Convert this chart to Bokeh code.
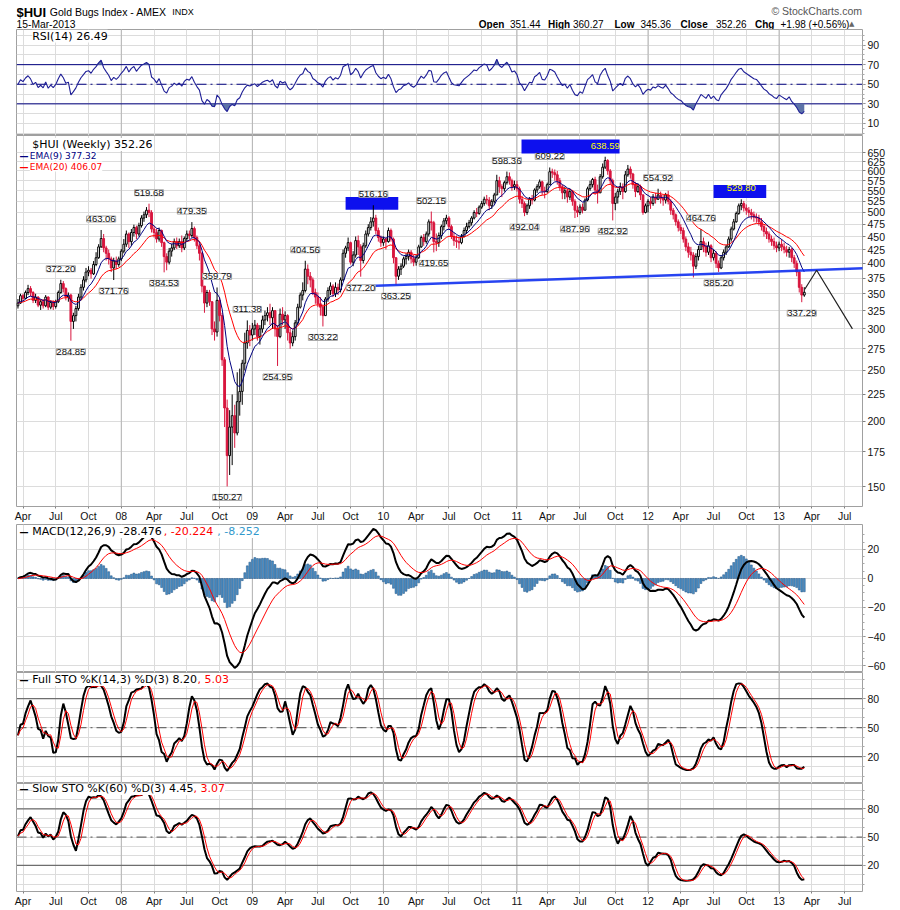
import numpy as np
import pandas as pd
from bokeh.plotting import figure
from bokeh.layouts import column
from bokeh.models import Range1d, FixedTicker, Span, Label, LabelSet, ColumnDataSource
from bokeh.core.properties import value
from bokeh.embed import file_html
from bokeh.resources import INLINE

# ---------------- data (weekly bars) ----------------
start_date = "2007-03-23"
first_open = 332.0

closes = [
    336, 347, 343, 352, 358, 352, 340, 345, 333, 338,
    332, 345, 330, 337, 331, 338, 352, 366, 358, 345,
    348, 310, 318, 328, 345, 360, 372, 385, 388, 382,
    398, 410, 430, 446, 428, 418, 408, 392, 404, 398,
    408, 422, 435, 455, 440, 458, 468, 455, 472, 488,
    495, 505, 500, 465, 458, 445, 462, 438, 412, 402,
    422, 428, 440, 432, 440, 428, 446, 455, 452, 466,
    448, 432, 418, 362, 336, 352, 338, 300, 296, 340,
    318, 262, 212, 172, 195, 205, 190, 218, 228, 258,
    282, 298, 292, 300, 305, 290, 300, 312, 318, 322,
    315, 325, 300, 290, 320, 312, 318, 295, 282, 290,
    308, 330, 348, 355, 390, 378, 372, 352, 345, 335,
    330, 318, 342, 355, 362, 350, 360, 356, 372, 418,
    428, 438, 402, 415, 442, 430, 405, 432, 455, 468,
    480, 488, 462, 448, 438, 445, 440, 462, 445, 410,
    378, 390, 395, 408, 412, 420, 408, 402, 410, 430,
    448, 440, 455, 480, 478, 440, 438, 452, 470, 482,
    488, 470, 450, 442, 440, 438, 450, 462, 470, 478,
    488, 500, 498, 512, 520, 530, 528, 515, 525, 540,
    575, 560, 555, 570, 585, 575, 560, 565, 555, 530,
    520, 500, 515, 530, 528, 552, 560, 572, 550, 548,
    565, 598, 595, 590, 575, 560, 545, 550, 535, 548,
    525, 505, 500, 512, 505, 528, 555, 565, 578, 552,
    545, 585, 610, 628, 600, 575, 520, 535, 548, 560,
    548, 590, 605, 592, 565, 548, 560, 540, 500, 515,
    525, 520, 535, 530, 540, 532, 528, 540, 525, 505,
    495, 480, 468, 462, 445, 430, 420, 415, 395, 412,
    425, 440, 430, 420, 432, 410, 418, 400, 392, 410,
    420, 430, 445, 465, 480, 498, 515, 520, 510, 505,
    500, 495, 490, 488, 480, 470, 460, 455, 445, 440,
    432, 428, 435, 430, 425, 420, 425, 410, 400, 385,
    360, 348, 352.26]

highs = [
    342, 350, 350, 355, 364, 362, 354, 350, 346, 341,
    342, 348, 346, 340, 340, 341, 355, 372.20, 370, 360,
    352, 350, 322, 332, 350, 365, 378, 392, 395, 392,
    404, 420, 435, 463.06, 455, 432, 425, 412, 410, 412,
    412, 426, 445, 462, 458, 465, 474, 472, 478, 494,
    502, 512, 519.68, 505, 472, 466, 468, 464, 440, 418,
    428, 436, 446, 448, 446, 452, 450, 462, 462, 479.35,
    470, 452, 436, 420, 362, 356, 356, 338, 310, 359.79,
    345, 322, 265, 220, 210, 225, 215, 248, 252, 262,
    295, 311.38, 305, 308, 312, 308, 305, 318, 325, 330,
    335, 330, 326, 305, 328, 330, 324, 320, 300, 298,
    312, 335, 352, 368, 404.56, 398, 385, 376, 358, 352,
    345, 334, 345, 360, 368, 365, 368, 366, 376, 425,
    432, 448, 440, 422, 450, 452, 435, 438, 462, 475,
    490, 516.16, 495, 468, 452, 450, 448, 468, 466, 448,
    410, 395, 400, 412, 418, 425, 424, 415, 415, 434,
    452, 455, 460, 485, 502.15, 482, 456, 458, 474, 488,
    495, 492, 474, 458, 452, 448, 455, 468, 478, 484,
    492, 505, 510, 516, 526, 536, 540, 535, 530, 545,
    590, 585, 566, 575, 598.36, 596, 580, 575, 575, 560,
    538, 525, 520, 535, 540, 556, 566, 578, 575, 560,
    570, 609.22, 606, 604, 600, 582, 565, 560, 555, 555,
    552, 530, 515, 518, 520, 532, 560, 575, 582, 585,
    565, 592, 620, 638.59, 632, 605, 580, 545, 555, 570,
    568, 600, 616, 612, 595, 572, 568, 565, 542, 520,
    530, 535, 542, 545, 554.92, 548, 540, 545, 550, 530,
    510, 498, 485, 475, 468, 450, 438, 430, 420, 418,
    432, 464.76, 448, 438, 440, 435, 425, 422, 405, 415,
    425, 434, 450, 470, 486, 502, 520, 529.80, 526, 518,
    512, 508, 502, 498, 495, 488, 475, 468, 460, 452,
    448, 440, 440, 445, 438, 432, 430, 428, 415, 405,
    388, 365, 360.27]

lows = [
    328, 335, 338, 342, 348, 346, 336, 336, 330, 326,
    328, 330, 326, 327, 326, 328, 336, 350, 352, 340,
    338, 284.85, 300, 310, 325, 340, 355, 368, 378, 374,
    380, 395, 408, 428, 420, 405, 398, 385, 371.76, 390,
    394, 404, 418, 430, 428, 432, 450, 445, 450, 468,
    480, 488, 490, 458, 448, 438, 440, 430, 384.53, 388,
    398, 412, 424, 426, 428, 420, 424, 440, 444, 448,
    440, 426, 405, 352, 322, 330, 332, 292, 285, 290,
    310, 255, 195, 150.27, 158, 165, 178, 188, 205, 215,
    250, 275, 278, 285, 292, 285, 280, 295, 305, 310,
    305, 300, 290, 254.95, 288, 305, 300, 285, 275, 278,
    285, 305, 328, 340, 352, 365, 360, 348, 335, 330,
    318, 303.22, 318, 338, 348, 345, 345, 348, 352, 370,
    410, 422, 398, 395, 410, 415, 377.20, 400, 428, 450,
    462, 470, 455, 440, 430, 432, 425, 438, 440, 400,
    363.25, 372, 380, 392, 398, 405, 400, 395, 396, 408,
    428, 432, 436, 450, 462, 419.65, 422, 430, 445, 462,
    475, 465, 445, 432, 428, 425, 435, 448, 455, 466,
    472, 485, 490, 495, 508, 515, 518, 505, 508, 520,
    540, 545, 535, 548, 565, 565, 550, 552, 548, 520,
    510, 492.04, 495, 508, 518, 525, 545, 555, 540, 532,
    545, 565, 582, 575, 565, 550, 530, 530, 522, 528,
    515, 487.96, 490, 495, 498, 505, 525, 550, 558, 540,
    520, 545, 580, 605, 590, 565, 482.92, 505, 520, 540,
    530, 545, 585, 580, 555, 535, 545, 528, 495, 498,
    500, 508, 515, 520, 528, 520, 515, 520, 518, 495,
    485, 472, 460, 455, 438, 422, 410, 405, 376, 390,
    405, 425, 420, 412, 415, 402, 405, 392, 385.20, 390,
    405, 415, 428, 440, 462, 478, 495, 505, 502, 495,
    490, 485, 480, 478, 472, 462, 450, 445, 438, 432,
    425, 420, 422, 422, 418, 412, 410, 402, 392, 378,
    352, 337.29, 345.36]

# range of the weeks before the first bar (estimated from the indicator start levels)
pre_range_14 = (365.0, 315.0)
pre_range_60 = (380.0, 290.0)

# price call-outs (bar, value, +1 above high / -1 below low)
label_bars = [17, 21, 33, 38, 52, 58, 69, 79, 83, 91, 103, 114, 121, 136, 141,
              150, 164, 165, 194, 201, 211, 221, 233, 236, 254, 271, 278, 287, 311]
label_values = [372.20, 284.85, 463.06, 371.76, 519.68, 384.53, 479.35, 359.79,
                150.27, 311.38, 254.95, 404.56, 303.22, 377.20, 516.16, 363.25,
                502.15, 419.65, 598.36, 492.04, 609.22, 487.96, 638.59, 482.92,
                554.92, 464.76, 385.20, 529.80, 337.29]
label_sides = [1, -1, 1, -1, 1, -1, 1, 1, -1, 1, -1, 1, -1, -1, 1,
               -1, 1, -1, 1, -1, 1, -1, 1, -1, 1, 1, -1, 1, -1]
highlight_values = [638.59, 529.80]

# hand-drawn annotations
trend_bars = [130.8, 350.2]
trend_prices = [361.0, 393.6]
proj_bars = [312.2, 316.9, 331.1]
proj_prices = [357.0, 388.0, 300.0]
box_left = [130.0, 199.8, 276.0]
box_right = [150.9, 238.7, 296.9]
box_bottom = [506.0, 648.0, 533.0]
box_top = [535.0, 689.0, 564.0]

price_ticks = list(range(150, 651, 25))

# ---------------- derived ----------------
n = len(closes)
xi = np.arange(n)
c = np.array(closes, float)
hi = np.array(highs, float)
lo = np.array(lows, float)
op = np.r_[first_open, c[:-1]]

UPC = "#000000"
DNC = "#d8163e"
col = np.where(c >= op, UPC, DNC)
fil = np.where(c > op, "#ffffff", col)


def ema(x, k):
    a = 2.0 / (k + 1)
    out = np.empty_like(x)
    out[0] = x[0]
    for i in range(1, len(x)):
        out[i] = a * x[i] + (1 - a) * out[i - 1]
    return out


ema9 = ema(c, 9)
ema20 = ema(c, 20)
macd = ema(c, 12) - ema(c, 26)
sig = ema(macd, 9)
hist = macd - sig

# RSI (Wilder), seeded neutral
d = np.diff(c)
g = np.maximum(d, 0)
ls = np.maximum(-d, 0)
ag = np.zeros(n)
al = np.zeros(n)
ag[0] = al[0] = np.abs(d[:14]).mean() / 2
for i in range(1, n):
    ag[i] = (ag[i - 1] * 13 + g[i - 1]) / 14
    al[i] = (al[i - 1] * 13 + ls[i - 1]) / 14
rsi = 100 - 100 / (1 + ag / np.maximum(al, 1e-9))


def stoch_raw(k, pre):
    out = np.empty(n)
    for i in range(n):
        j = i - k + 1
        hh = hi[max(0, j):i + 1].max()
        ll = lo[max(0, j):i + 1].min()
        if j < 0:
            hh = max(hh, pre[0])
            ll = min(ll, pre[1])
        out[i] = 100 * (c[i] - ll) / max(hh - ll, 1e-9)
    return out


fk = pd.Series(stoch_raw(14, pre_range_14)).rolling(3, min_periods=1).mean()
fd = fk.rolling(3, min_periods=1).mean()
sk = pd.Series(stoch_raw(60, pre_range_60)).rolling(3, min_periods=1).mean()
sd = sk.rolling(3, min_periods=1).mean()

# x ticks: first bar of each quarter
ext_dates = pd.date_range(start_date, periods=n + 30, freq="7D")
qstarts = pd.date_range("2007-04-01", "2013-07-01", freq="QS")
tick_pos = []
tick_txt = {}
year_pos = []
for q in qstarts:
    k = int(np.searchsorted(ext_dates.values, q.to_datetime64()))
    tick_pos.append(k)
    tick_txt[k] = q.strftime("%y") if q.month == 1 else q.strftime("%b")
    if q.month == 1:
        year_pos.append(k)

# ---------------- layout helpers ----------------
W = 892
XR = Range1d(-0.58, 335.1)
GRID = "#dcdcdc"
AXB = 16
FL = 16  # frame left offset


def panel(h, yr, ticks, grid_ticks, minor=None, log=False, xaxis=False):
    p = figure(width=W, height=h, x_range=XR, y_range=Range1d(*yr),
               y_axis_type="log" if log else "linear",
               x_axis_location="below" if xaxis else None,
               y_axis_location="right", toolbar_location=None,
               output_backend="svg", min_border_left=FL, min_border_right=30,
               min_border_top=0, min_border_bottom=AXB if xaxis else 0)
    p.outline_line_color = "#a0a0a0"
    p.xgrid.ticker = FixedTicker(ticks=tick_pos)
    p.xgrid.grid_line_color = GRID
    p.ygrid.ticker = FixedTicker(ticks=grid_ticks)
    p.ygrid.grid_line_color = GRID
    for k in year_pos:
        p.add_layout(Span(location=k, dimension="height", line_color="#b4b4b4",
                          line_width=1, level="underlay"))
    ax = p.yaxis[0]
    ax.ticker = FixedTicker(ticks=ticks, minor_ticks=minor or [])
    ax.major_label_text_font = "Liberation Sans"
    ax.major_label_text_font_size = "10.5px"
    ax.major_label_text_color = "#111111"
    ax.major_tick_in = 0
    ax.major_tick_out = 3
    ax.minor_tick_in = 0
    ax.minor_tick_out = 2
    ax.axis_line_color = None
    ax.major_tick_line_color = "#808080"
    ax.minor_tick_line_color = "#a8a8a8"
    ax.major_label_standoff = 2
    if xaxis:
        xa = p.xaxis[0]
        xa.ticker = FixedTicker(ticks=tick_pos)
        xa.major_label_overrides = tick_txt
        xa.major_label_text_font = "Liberation Sans"
        xa.major_label_text_font_size = "10.5px"
        xa.major_label_text_color = "#111111"
        xa.major_tick_in = 0
        xa.major_tick_out = 2
        xa.minor_tick_out = 0
        xa.axis_line_color = None
        xa.major_tick_line_color = "#808080"
        xa.major_label_standoff = 1
    return p


def lab(p, x, y, text, size="11px", color="#000000", font="DejaVu Sans",
        style="normal", align="left", bg="white"):
    p.add_layout(Label(x=x, y=y, x_units="screen", y_units="screen", text=text,
                       text_font=font, text_font_size=size, text_color=color,
                       text_font_style=style, text_align=align,
                       text_baseline="middle", background_fill_color=bg))


# ---------------- header ----------------
HH = 29
hdr = figure(width=W, height=HH, x_range=(0, 1), y_range=(0, 1),
             toolbar_location=None, output_backend="svg",
             x_axis_location=None, y_axis_location=None,
             min_border_left=FL, min_border_right=30, min_border_top=0,
             min_border_bottom=0)
hdr.outline_line_color = None
hdr.xgrid.visible = False
hdr.ygrid.visible = False
LS = "Liberation Sans"
r1 = HH - 11.5
r2 = HH - 23.5


def hlab(x, y, text, size, **kw):
    lab(hdr, x - FL, y, text, size, font=kw.pop("font", LS), bg=None, **kw)


hlab(16, r1, "$HUI", "13px", style="bold")
hlab(49.3, r1, "Gold Bugs Index - AMEX", "10.5px")
hlab(171.7, r1, "INDX", "9px")
hlab(16, r2, "15-Mar-2013", "10.3px")
hlab(861.5, HH - 10.3, "\u00a9 StockCharts.com", "10.5px", color="#555555",
     align="right")
ohlc_parts = [(478.3, "Open", "bold"), (509.5, "351.44", "normal"),
              (547.5, "High", "bold"), (572.5, "360.27", "normal"),
              (614.0, "Low", "bold"), (640.0, "345.36", "normal"),
              (680.0, "Close", "bold"), (715.5, "352.26", "normal"),
              (754.5, "Chg", "bold"), (780.0, "+1.98 (+0.56%)", "normal")]
for x0, t, st in ohlc_parts:
    hlab(x0, r2, t, "10px", style=st)
hlab(848.5, r2, "\u25b2", "7px", color="#666666", font="DejaVu Sans")

# ---------------- RSI ----------------
RH = 106
rp = panel(RH, (-2.3, 105.9), [10, 30, 50, 70, 90], list(range(0, 101, 10)),
           minor=list(range(0, 101, 5)))
for lv, dash in ((70, "solid"), (30, "solid"), (50, "10 4 2 4")):
    rp.add_layout(Span(location=lv, dimension="width", line_color="#000080",
                       line_width=1, line_dash=dash, level="underlay"))
rp.varea(x=xi, y1=np.minimum(rsi, 30), y2=30, fill_color="#5d73a8")
rp.varea(x=xi, y1=70, y2=np.maximum(rsi, 70), fill_color="#5d73a8")
rp.line(xi, rsi, color="#1e1e96", line_width=1.1)
lab(rp, 15.7, RH - 6.5, "RSI(14) 26.49")

# ---------------- price ----------------
MH = 373 + AXB
MF = MH - AXB
mp = panel(MH, (137.6, 701.0), price_ticks, price_ticks, log=True, xaxis=True)
mp.quad(left=box_left, right=box_right, bottom=box_bottom, top=box_top,
        fill_color="#0d10ee", line_color=None)
mp.segment(x0=xi, y0=lo, x1=xi, y1=hi, color=col, line_width=1)
mp.vbar(x=xi, width=0.72, top=np.maximum(op, c), bottom=np.minimum(op, c),
        fill_color=fil, line_color=col, line_width=1)
mp.line(xi, ema20, color="#ff0000", line_width=1)
mp.line(xi, ema9, color="#000080", line_width=1)
mp.line(trend_bars, trend_prices, color="#1030f0", line_width=2.5, alpha=0.9)
mp.line(proj_bars, proj_prices, color="#222222", line_width=1.2)

norm = [i for i, v in enumerate(label_values) if v not in highlight_values]
hl = [i for i, v in enumerate(label_values) if v in highlight_values]
src_n = ColumnDataSource(dict(
    x=[label_bars[i] for i in norm], y=[label_values[i] for i in norm],
    t=["%.2f" % label_values[i] for i in norm],
    yo=[11 * label_sides[i] for i in norm]))
src_h = ColumnDataSource(dict(
    x=[label_bars[i] for i in hl], y=[label_values[i] for i in hl],
    t=["%.2f" % label_values[i] for i in hl],
    yo=[11 * label_sides[i] for i in hl]))
mp.add_layout(LabelSet(x="x", y="y", text="t", y_offset="yo", source=src_n,
                       text_font=value("Liberation Sans"), text_font_size="9.5px",
                       text_align="center", text_baseline="middle",
                       text_color="#111111", background_fill_color="white",
                       border_line_color="#a8a8a8"))
mp.add_layout(LabelSet(x="x", y="y", text="t", y_offset="yo", source=src_h,
                       text_font=value("Liberation Sans"), text_font_size="9.5px",
                       text_align="center", text_baseline="middle",
                       text_color="#ffff00"))
lab(mp, 15.7, MF - 11, "$HUI (Weekly) 352.26")
lab(mp, 3, MF - 22, "\u2014", "9px", color="#000080", style="bold", bg=None)
lab(mp, 13.3, MF - 22, "EMA(9) 377.32", "9px", color="#000080")
lab(mp, 3, MF - 33, "\u2014", "9px", color="#ff0000", style="bold", bg=None)
lab(mp, 13.3, MF - 33, "EMA(20) 406.07", "9px", color="#ff0000")

# ---------------- MACD ----------------
CH = 148
cp = panel(CH, (-64.8, 37.2), [-60, -40, -20, 0, 20], [-60, -40, -20, 0, 20],
           minor=list(range(-60, 31, 5)))
cp.vbar(x=xi, top=hist, bottom=0, width=0.75, fill_color="#4a90c8",
        line_color="#1f4f7f", line_width=0.5)
cp.line(xi, macd, color="#000000", line_width=2)
cp.line(xi, sig, color="#ff0000", line_width=1)
lab(cp, 3, CH - 7, "\u2014", "9px", style="bold", bg=None)
lab(cp, 15.7, CH - 7, "MACD(12,26,9) -28.476")
lab(cp, 147.3, CH - 7, ", -20.224", color="#ff0000")
lab(cp, 200.7, CH - 7, ", -8.252", color="#3399cc")


# ---------------- stochastics ----------------
def sto_panel(h, xaxis, k, dd, title, tail, tail_x):
    p = panel(h, (-7.7, 106.9), [20, 50, 80], list(range(0, 101, 10)),
              minor=list(range(0, 101, 10)), xaxis=xaxis)
    for lv, dash in ((80, "solid"), (20, "solid"), (50, "10 4 2 4")):
        p.add_layout(Span(location=lv, dimension="width", line_color="#6e6e6e",
                          line_width=1.2, line_dash=dash, level="underlay"))
    p.line(xi, k, color="#000000", line_width=2)
    p.line(xi, dd, color="#ff0000", line_width=1)
    fh = h - (AXB if xaxis else 0)
    lab(p, 3, fh - 7, "\u2014", "9px", style="bold", bg=None)
    lab(p, 15.7, fh - 7, title)
    lab(p, tail_x, fh - 7, tail, color="#ff0000")
    return p


fp = sto_panel(111, False, fk.values, fd.values,
               "Full STO %K(14,3) %D(3) 8.20", ", 5.03", 181.0)
sp = sto_panel(110 + AXB, True, sk.values, sd.values,
               "Slow STO %K(60) %D(3) 4.45", ", 3.07", 177.0)

layout = column(hdr, rp, mp, cp, fp, sp, spacing=0)
open("out.html", "w").write(file_html(layout, INLINE))
